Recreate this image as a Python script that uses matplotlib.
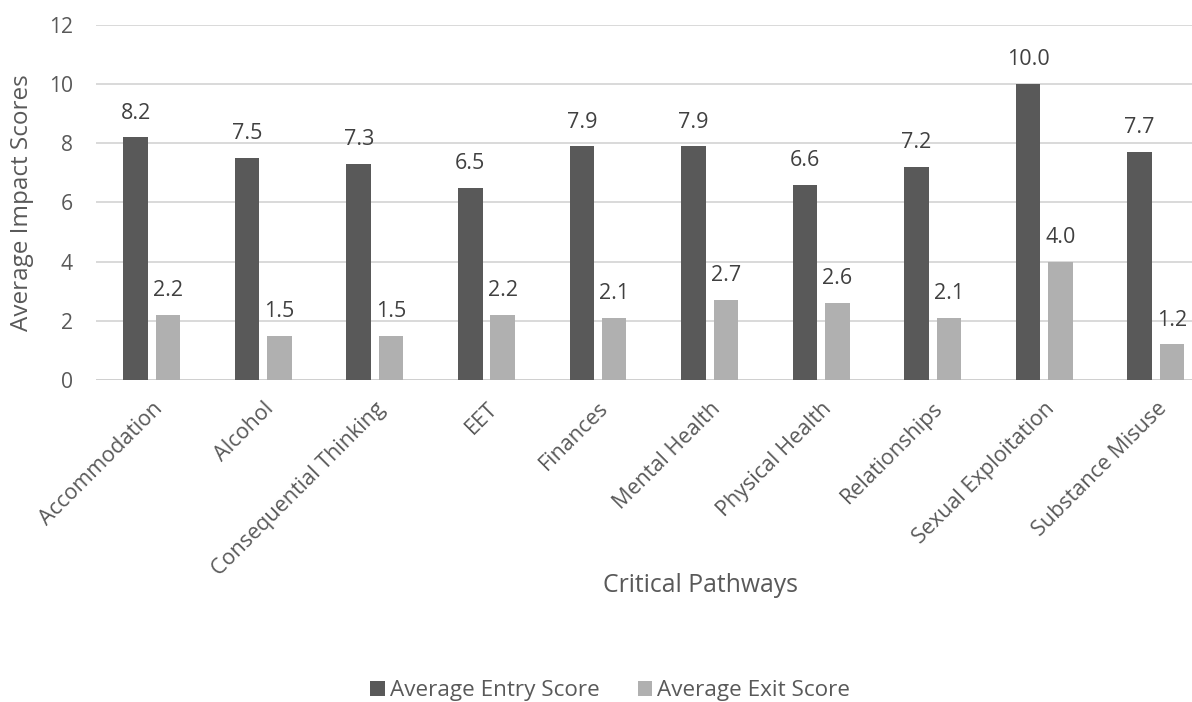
import matplotlib
matplotlib.use("Agg")
import matplotlib.pyplot as plt
import numpy as np

categories = ["Accommodation", "Alcohol", "Consequential Thinking", "EET", "Finances",
              "Mental Health", "Physical Health", "Relationships", "Sexual Exploitation",
              "Substance Misuse"]
entry_scores = [8.2, 7.5, 7.3, 6.5, 7.9, 7.9, 6.6, 7.2, 10.0, 7.7]
exit_scores = [2.2, 1.5, 1.5, 2.2, 2.1, 2.7, 2.6, 2.1, 4.0, 1.2]
yticks = [0, 2, 4, 6, 8, 10, 12]

plt.rcParams['font.family'] = ['Open Sans', 'DejaVu Sans']
text_color = "#595959"

fig = plt.figure(figsize=(11.92, 7.02), dpi=100)
# plot area runs a little past the right edge of the canvas
ax = fig.add_axes([0.0805, 0.4587, 0.936, 0.5057])

x = np.arange(len(categories))
w = 0.22
off = 0.145
b1 = ax.bar(x - off, entry_scores, w, color="#595959", label="Average Entry Score", zorder=3)
b2 = ax.bar(x + off, exit_scores, w, color="#b0b0b0", label="Average Exit Score", zorder=3)

for bars, vals in ((b1, entry_scores), (b2, exit_scores)):
    for rect, v in zip(bars, vals):
        ax.annotate(f"{v:.1f}", (rect.get_x() + rect.get_width() / 2, v),
                    xytext=(0, 13.5), textcoords="offset points", ha="center", va="baseline",
                    fontsize=15.5, color="#404040")

ax.set_xlim(-0.5, len(categories) - 0.5)
ax.set_ylim(0, 12)
ax.set_yticks(yticks)
ax.yaxis.grid(True, color="#d9d9d9", linewidth=1.4, zorder=0)
ax.set_axisbelow(True)
for s in ax.spines.values():
    s.set_visible(False)
ax.axhline(0, color="#d0d0d0", linewidth=1.4, zorder=2)
ax.tick_params(axis="both", length=0, colors=text_color, labelsize=15.2)
ax.tick_params(axis="y", pad=16.5)
ax.set_xticks(x)
ax.set_xticklabels(categories, rotation=45, ha="right", rotation_mode="anchor", fontsize=15.5)
ax.tick_params(axis="x", pad=13)

fig.text(0.0185, 0.712, "Average Impact Scores", rotation=90, ha="center", va="center",
         fontsize=17.5, color=text_color)
fig.text(0.588, 0.166, "Critical Pathways", ha="center", va="center", fontsize=17.8,
         color=text_color)

leg = fig.legend(loc="center", bbox_to_anchor=(0.512, 0.016), ncol=2, frameon=False,
                 fontsize=16.2, handlelength=0.63, handleheight=0.63, columnspacing=1.7,
                 handletextpad=0.23, borderpad=0)
for t in leg.get_texts():
    t.set_color(text_color)

fig.savefig("out.png", dpi=100)
